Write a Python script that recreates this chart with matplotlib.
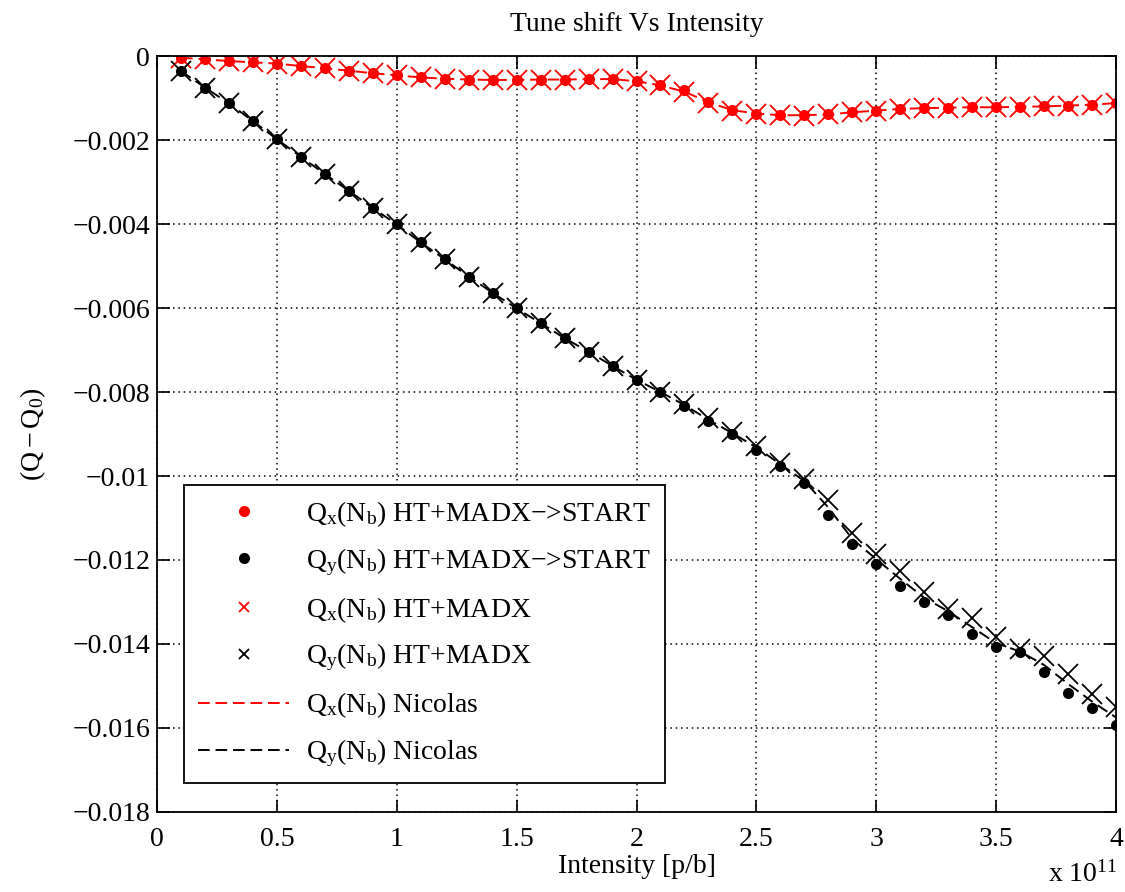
import numpy as np
from matplotlib import pyplot as plt
import matplotlib.ticker as mticker
from matplotlib.lines import Line2D

plt.rcParams['font.family'] = ['Liberation Serif', 'DejaVu Serif']
plt.rcParams['mathtext.fontset'] = 'custom'
plt.rcParams['mathtext.rm'] = 'Liberation Serif'
plt.rcParams['mathtext.it'] = 'Liberation Serif:italic'

# intensity in units of 1e11 p/b
intensity = [0.1, 0.2, 0.3, 0.4, 0.5, 0.6, 0.7, 0.8, 0.9, 1.0,
             1.1, 1.2, 1.3, 1.4, 1.5, 1.6, 1.7, 1.8, 1.9, 2.0,
             2.1, 2.2, 2.3, 2.4, 2.5, 2.6, 2.7, 2.8, 2.9, 3.0,
             3.1, 3.2, 3.3, 3.4, 3.5, 3.6, 3.7, 3.8, 3.9, 4.0]

# HT+MADX->START
qx_start = [-0.00004, -0.00008, -0.00012, -0.00015, -0.00018, -0.00024, -0.00029, -0.00035, -0.00041, -0.00046,
            -0.00051, -0.00054, -0.00056, -0.00057, -0.00057, -0.00056, -0.00056, -0.00055, -0.00054, -0.00060,
            -0.00068, -0.00082, -0.00110, -0.00129, -0.00137, -0.00141, -0.00141, -0.00139, -0.00134, -0.00130,
            -0.00125, -0.00124, -0.00123, -0.00122, -0.00122, -0.00121, -0.00120, -0.00118, -0.00116, -0.00112]
qy_start = [-0.00036, -0.00075, -0.00113, -0.00155, -0.00198, -0.00240, -0.00281, -0.00321, -0.00362, -0.00401,
            -0.00444, -0.00484, -0.00525, -0.00564, -0.00601, -0.00636, -0.00672, -0.00704, -0.00738, -0.00771,
            -0.00800, -0.00834, -0.00870, -0.00901, -0.00937, -0.00976, -0.01017, -0.01092, -0.01163, -0.01210,
            -0.01262, -0.01301, -0.01330, -0.01376, -0.01408, -0.01420, -0.01467, -0.01516, -0.01553, -0.01594]

# HT+MADX
qx_ht = [-0.00004, -0.00008, -0.00012, -0.00015, -0.00018, -0.00024, -0.00029, -0.00035, -0.00041, -0.00046,
         -0.00051, -0.00054, -0.00056, -0.00057, -0.00057, -0.00056, -0.00056, -0.00055, -0.00054, -0.00060,
         -0.00069, -0.00086, -0.00112, -0.00130, -0.00138, -0.00141, -0.00142, -0.00139, -0.00134, -0.00130,
         -0.00125, -0.00124, -0.00123, -0.00122, -0.00122, -0.00121, -0.00120, -0.00118, -0.00116, -0.00113]
qy_ht = [-0.00036, -0.00075, -0.00113, -0.00155, -0.00198, -0.00240, -0.00281, -0.00321, -0.00362, -0.00401,
         -0.00444, -0.00484, -0.00525, -0.00564, -0.00601, -0.00636, -0.00672, -0.00704, -0.00738, -0.00771,
         -0.00800, -0.00828, -0.00863, -0.00895, -0.00928, -0.00968, -0.01006, -0.01056, -0.01136, -0.01186,
         -0.01226, -0.01277, -0.01317, -0.01339, -0.01384, -0.01412, -0.01428, -0.01471, -0.01518, -0.01550]

# Nicolas
qx_nic = [-0.00004, -0.00008, -0.00012, -0.00015, -0.00018, -0.00024, -0.00029, -0.00035, -0.00041, -0.00046,
          -0.00051, -0.00054, -0.00056, -0.00057, -0.00057, -0.00056, -0.00056, -0.00055, -0.00055, -0.00060,
          -0.00070, -0.00085, -0.00110, -0.00129, -0.00137, -0.00141, -0.00141, -0.00139, -0.00134, -0.00130,
          -0.00126, -0.00124, -0.00123, -0.00122, -0.00122, -0.00121, -0.00120, -0.00118, -0.00116, -0.00112]
qy_nic = [-0.00036, -0.00075, -0.00113, -0.00155, -0.00198, -0.00240, -0.00281, -0.00321, -0.00362, -0.00401,
          -0.00444, -0.00484, -0.00525, -0.00564, -0.00601, -0.00636, -0.00672, -0.00704, -0.00738, -0.00771,
          -0.00800, -0.00831, -0.00866, -0.00898, -0.00932, -0.00972, -0.01012, -0.01075, -0.01150, -0.01198,
          -0.01245, -0.01290, -0.01322, -0.01360, -0.01398, -0.01418, -0.01450, -0.01495, -0.01537, -0.01575]

labels = [r'$\mathrm{Q_x(N_b)}$ HT+MADX' + '\u2212>START',
          r'$\mathrm{Q_y(N_b)}$ HT+MADX' + '\u2212>START',
          r'$\mathrm{Q_x(N_b)}$ HT+MADX',
          r'$\mathrm{Q_y(N_b)}$ HT+MADX',
          r'$\mathrm{Q_x(N_b)}$ Nicolas',
          r'$\mathrm{Q_y(N_b)}$ Nicolas']


def main():
    fig = plt.figure(figsize=(11.25, 8.92), dpi=100)
    ax = fig.add_axes([0.1396, 0.0897, 0.8524, 0.8475])

    ax.plot(intensity, qx_nic, color='red', linestyle=(0, (6, 3)), linewidth=1.4)
    ax.plot(intensity, qy_nic, color='black', linestyle=(0, (6, 3)), linewidth=1.4)
    ax.plot(intensity, qx_start, 'o', color='red', markersize=7)
    ax.plot(intensity, qy_start, 'o', color='black', markersize=7)
    ax.plot(intensity, qx_ht, 'x', color='red', markersize=14, markeredgewidth=1.3)
    ax.plot(intensity, qy_ht, 'x', color='black', markersize=14, markeredgewidth=1.3)

    ax.set_xlim(0, 4)
    ax.set_ylim(-0.018, 0)
    ax.set_xticks([0, 0.5, 1, 1.5, 2, 2.5, 3, 3.5, 4])
    ax.set_yticks([-0.018, -0.016, -0.014, -0.012, -0.01, -0.008, -0.006, -0.004, -0.002, 0])
    fmt = mticker.FuncFormatter(lambda v, p: ('%g' % v).replace('-', '\u2212'))
    ax.xaxis.set_major_formatter(fmt)
    ax.yaxis.set_major_formatter(fmt)
    ax.tick_params(direction='in', length=9, width=1.2, labelsize=20, pad=5,
                   top=True, right=True)
    ax.tick_params(axis='x', pad=11)
    for s in ax.spines.values():
        s.set_linewidth(1.3)
    ax.grid(True, color='black', linestyle=(0, (1, 2.5)), linewidth=1.1)

    ax.set_title('Tune shift Vs Intensity', fontsize=20, pad=18)
    ax.set_xlabel('Intensity [p/b]', fontsize=20)
    ax.xaxis.set_label_coords(0.5, -0.055)
    ax.set_ylabel(r'$\mathrm{(Q-Q_0)}$', fontsize=20)
    ax.yaxis.set_label_coords(-0.114, 0.5)
    fig.text(0.993, 0.012, r'x 10$^{11}$', fontsize=20, ha='right', va='baseline')

    handles = [Line2D([], [], linestyle='none', marker='o', color='red', markersize=7),
               Line2D([], [], linestyle='none', marker='o', color='black', markersize=7),
               Line2D([], [], linestyle='none', marker='x', color='red', markersize=7, markeredgewidth=1.3),
               Line2D([], [], linestyle='none', marker='x', color='black', markersize=7, markeredgewidth=1.3),
               Line2D([], [], color='red', linestyle=(0, (6, 3)), linewidth=1.4),
               Line2D([], [], color='black', linestyle=(0, (6, 3)), linewidth=1.4)]
    leg = ax.legend(handles, labels, loc='lower left', bbox_to_anchor=(0.028, 0.038),
                    borderaxespad=0, fontsize=20, handlelength=3.3, labelspacing=0.62,
                    handletextpad=0.6, borderpad=0.5,
                    fancybox=False, framealpha=1, edgecolor='black')
    leg.get_frame().set_linewidth(1.3)

    plt.savefig('out.png', dpi=100)
    plt.close(fig)


if __name__ == '__main__':
    main()
